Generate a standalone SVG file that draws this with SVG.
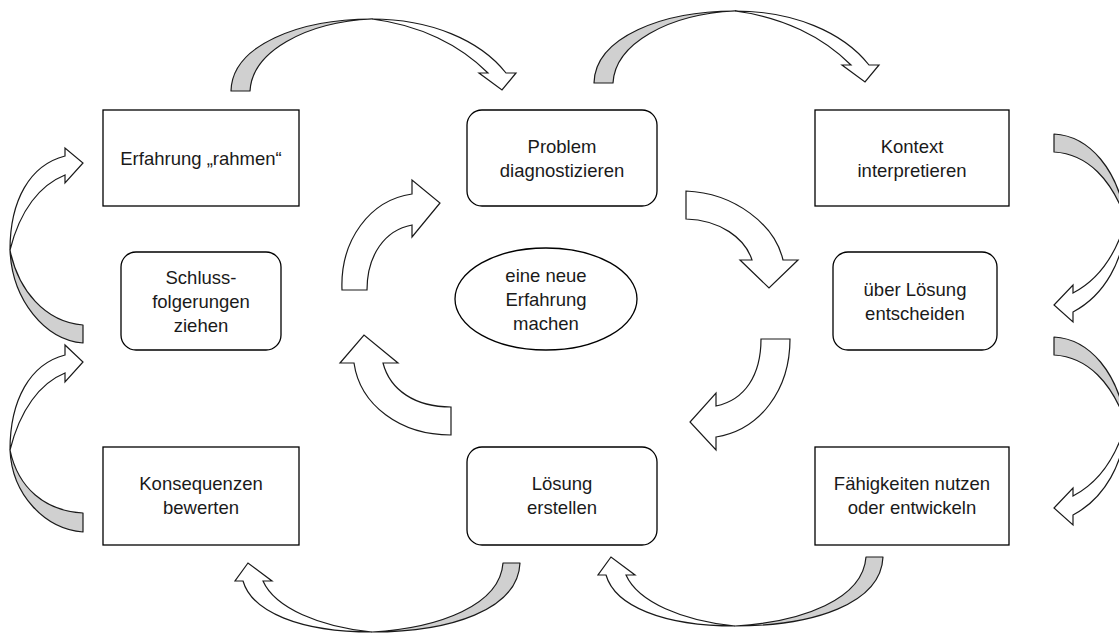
<svg xmlns="http://www.w3.org/2000/svg" width="1119" height="633" viewBox="0 0 1119 633">
<style>
.box{fill:#fff;stroke:#000;stroke-width:1.3}
.t{font-family:"Liberation Sans",Arial,sans-serif;font-size:18.5px;fill:#1a1a1a;text-anchor:middle}
.g{fill:#d0d0d0;stroke:#1a1a1a;stroke-width:1.2;stroke-linejoin:round}
.w{fill:#fff;stroke:#1a1a1a;stroke-width:1.2;stroke-linejoin:miter}
</style>
<rect width="1119" height="633" fill="#fff"/>
<g id="connectors">
<!-- top arrows -->
<g id="top1" transform="translate(231,91)">
<path class="g" d="M0,0 C1,-46 69,-72 141,-72 C74,-69 21,-39 19,0 Z"/>
<path class="w" d="M141,-72 C199,-72 249,-51 275,-18 L285,-18 L271,-1 L248,-18 L257,-18 C229,-46 189,-66 141,-72 Z"/>
</g>
<g id="top2" transform="translate(594,83)">
<path class="g" d="M0,0 C1,-46 69,-72 141,-72 C74,-69 21,-39 19,0 Z"/>
<path class="w" d="M141,-72 C199,-72 249,-51 275,-18 L285,-18 L271,-1 L248,-18 L257,-18 C229,-46 189,-66 141,-72 Z"/>
</g>
<!-- right arrows -->
<g id="right1">
<path class="g" d="M1054,134 C1090,136 1118,170 1126,220 C1112,180 1088,154 1054,152 Z"/>
<path class="w" d="M1126,220 C1124,260 1105,295 1073,312 L1073,322 L1054,305 L1073,285 L1073,293 C1098,280 1116,255 1126,220 Z"/>
</g>
<g id="right2" transform="translate(0,203)">
<path class="g" d="M1054,134 C1090,136 1118,170 1126,220 C1112,180 1088,154 1054,152 Z"/>
<path class="w" d="M1126,220 C1124,260 1105,295 1073,312 L1073,322 L1054,305 L1073,285 L1073,293 C1098,280 1116,255 1126,220 Z"/>
</g>
<!-- left arrows -->
<g id="left1">
<path class="g" d="M83,343 C45,340 12,300 10,250 C18,290 45,322 83,325 Z"/>
<path class="w" d="M10,250 C10,200 30,165 65,156 L65,148 L83,163 L65,183 L65,175 C40,185 20,210 10,250 Z"/>
</g>
<g id="left2">
<path class="g" d="M83,532 C45,529 12,495 10,450 C18,488 45,511 83,513 Z"/>
<path class="w" d="M10,450 C10,400 30,364 65,355 L65,345 L83,362 L65,382 L65,373 C40,383 20,410 10,450 Z"/>
</g>
<!-- bottom arrows -->
<g id="bottom1">
<path class="g" d="M520,563 C518,610 450,632 372,632 C440,628 500,605 503,563 Z"/>
<path class="w" d="M372,632 C300,632 252,612 243,581 L235,581 L248,563 L272,581 L263,581 C275,608 320,627 372,632 Z"/>
</g>
<g id="bottom2" transform="translate(363,-6)">
<path class="g" d="M520,563 C518,610 450,632 372,632 C440,628 500,605 503,563 Z"/>
<path class="w" d="M372,632 C300,632 252,612 243,581 L235,581 L248,563 L272,581 L263,581 C275,608 320,627 372,632 Z"/>
</g>
<!-- inner arrows -->
<path class="w" d="M342,290 C340,240 370,200 412,194 L412,180 L440,203 L412,237 L412,225 C385,230 367,255 367,290 Z"/>
<path class="w" d="M686,191 C735,193 775,225 783,260 L798,260 L769,288 L740,260 L752,260 C745,238 720,220 686,219 Z"/>
<path class="w" d="M790,339 C790,390 760,430 716,437 L716,450 L690,422 L716,393 L716,406 C745,400 761,375 761,339 Z"/>
<path class="w" d="M451,435 C400,435 360,405 354,363 L340,363 L364,335 L398,363 L383,363 C390,390 415,407 451,407 Z"/>
</g>
<g id="n-rahmen"><rect class="box" x="103" y="110" width="196" height="96"/><text class="t" x="201" y="165">Erfahrung „rahmen“</text></g>
<g id="n-problem"><rect class="box" x="467" y="110" width="190" height="96" rx="15"/><text class="t" x="562" y="153">Problem</text><text class="t" x="562" y="177">diagnostizieren</text></g>
<g id="n-kontext"><rect class="box" x="815" y="110" width="194" height="96"/><text class="t" x="912" y="153">Kontext</text><text class="t" x="912" y="177">interpretieren</text></g>
<g id="n-schluss"><rect class="box" x="121" y="252" width="160" height="98" rx="15"/><text class="t" x="201" y="284">Schluss-</text><text class="t" x="201" y="308">folgerungen</text><text class="t" x="201" y="332">ziehen</text></g>
<g id="n-center"><ellipse class="box" cx="546" cy="299" rx="91" ry="51"/><text class="t" x="546" y="282">eine neue</text><text class="t" x="546" y="306">Erfahrung</text><text class="t" x="546" y="330">machen</text></g>
<g id="n-entscheiden"><rect class="box" x="833" y="252" width="164" height="98" rx="15"/><text class="t" x="915" y="296">über Lösung</text><text class="t" x="915" y="320">entscheiden</text></g>
<g id="n-konsequenzen"><rect class="box" x="103" y="447" width="196" height="98"/><text class="t" x="201" y="490">Konsequenzen</text><text class="t" x="201" y="514">bewerten</text></g>
<g id="n-loesung"><rect class="box" x="467" y="447" width="190" height="98" rx="15"/><text class="t" x="562" y="490">Lösung</text><text class="t" x="562" y="514">erstellen</text></g>
<g id="n-faehigkeiten"><rect class="box" x="815" y="447" width="194" height="98"/><text class="t" x="912" y="490">Fähigkeiten nutzen</text><text class="t" x="912" y="514">oder entwickeln</text></g>
</svg>
